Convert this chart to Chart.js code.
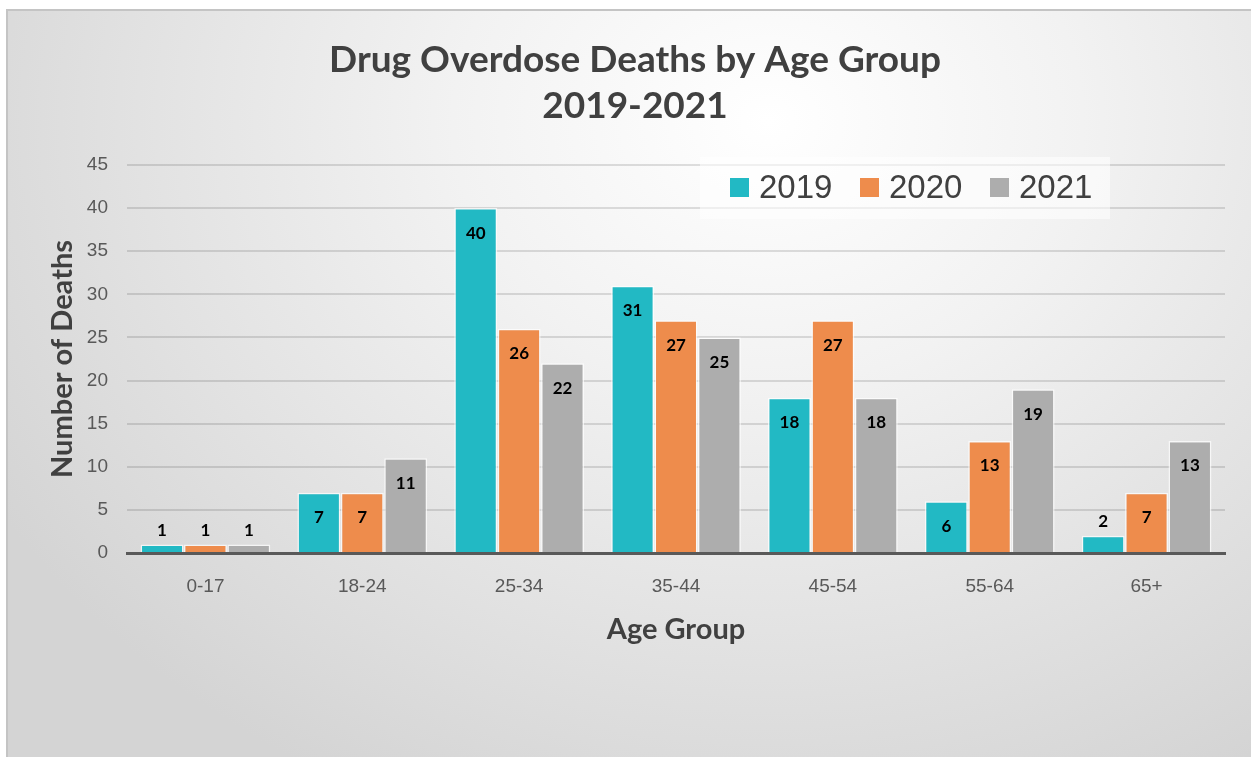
<!DOCTYPE html>
<html>
<head>
<meta charset="utf-8">
<script src="https://cdn.jsdelivr.net/npm/chart.js@4.4.1/dist/chart.umd.min.js"></script>
<style>
  html, body { margin: 0; padding: 0; background: #ffffff; }
  #wrap {
    position: absolute; left: 0; top: 0; width: 1251px; height: 757px;
  }
  #bg {
    position: absolute; left: 6px; top: 9px; right: 0; bottom: 0;
    border-top: 2px solid #c4c4c4; border-left: 2px solid #c4c4c4;
    background: radial-gradient(ellipse 900px 750px at 760px 110px, #ffffff 0%, #f2f2f2 35%, #e2e2e2 70%, #d4d4d4 100%);
  }
  canvas { position: absolute; left: 0; top: 0; }
</style>
</head>
<body>
<div id="wrap">
  <div id="bg"></div>
  <canvas id="myChart" width="1251" height="757"></canvas>
</div>
<script>
const ctx = document.getElementById('myChart').getContext('2d');

// Datos
const ageGroups = ['0-17', '18-24', '25-34', '35-44', '45-54', '55-64', '65+'];
const years = ['2019', '2020', '2021'];
const deaths2019 = [1, 7, 40, 31, 18, 6, 2];
const deaths2020 = [1, 7, 26, 27, 27, 13, 7];
const deaths2021 = [1, 11, 22, 25, 18, 19, 13];
const yTicks = [0, 5, 10, 15, 20, 25, 30, 35, 40, 45];

const colors = ['#22b9c4', '#ee8c4c', '#adadad'];

// etiquetas de valores dentro de las barras
const valueLabels = {
    id: 'valueLabels',
    afterDraw(chart) {
        const c = chart.ctx;
        c.save();
        c.font = 'bold 17px Lato';
        c.fillStyle = '#000000';
        c.textAlign = 'center';
        c.textBaseline = 'middle';
        chart.data.datasets.forEach((ds, i) => {
            chart.getDatasetMeta(i).data.forEach((bar, j) => {
                const h = bar.base - bar.y;
                const y = h > 30 ? bar.y + 25 : bar.y - 14;
                c.fillText(ds.data[j], bar.x, y);
            });
        });
        c.restore();
    }
};

// leyenda con caja clara
const boxLegend = {
    id: 'boxLegend',
    afterDraw(chart) {
        const c = chart.ctx;
        c.save();
        c.fillStyle = 'rgba(255,255,255,0.55)';
        c.fillRect(700, 157, 410, 62);
        c.font = '33px "Liberation Sans"';
        c.textBaseline = 'middle';
        let x = 730;
        chart.data.datasets.forEach((ds) => {
            c.fillStyle = ds.backgroundColor;
            c.fillRect(x, 178, 19, 19);
            c.fillStyle = '#404040';
            c.fillText(ds.label, x + 29, 189);
            x += 130;
        });
        c.restore();
    }
};

const myChart = new Chart(ctx, {
    type: 'bar',
    data: {
        labels: ageGroups,
        datasets: [
            { label: years[0], data: deaths2019, backgroundColor: colors[0] },
            { label: years[1], data: deaths2020, backgroundColor: colors[1] },
            { label: years[2], data: deaths2021, backgroundColor: colors[2] }
        ].map(d => Object.assign(d, {
            borderColor: 'rgba(255,255,255,0.7)',
            borderWidth: 1.5,
            categoryPercentage: 0.83,
            barPercentage: 0.99
        }))
    },
    options: {
        responsive: false,
        animation: false,
        layout: { padding: { left: 45, right: 26, top: 0, bottom: 110 } },
        plugins: {
            legend: { display: false },
            tooltip: { enabled: false },
            title: {
                display: true,
                text: ['Drug Overdose Deaths by Age Group', '2019-2021'],
                color: '#404040',
                font: { family: 'Lato', size: 37, weight: 'bold', lineHeight: 1.243 },
                padding: { top: 37, bottom: 36 }
            }
        },
        scales: {
            x: {
                afterFit: (axis) => { axis.height = 94; },
                grid: { display: false, drawTicks: false },
                border: { display: true, color: '#595959', width: 3 },
                ticks: { color: '#595959', font: { family: 'Liberation Sans', size: 19 }, padding: 22 },
                title: {
                    display: true, text: 'Age Group', color: '#404040',
                    font: { family: 'Lato', size: 29, weight: 'bold' }, padding: { top: 16, bottom: 0 }
                }
            },
            y: {
                min: 0,
                max: 45,
                afterFit: (axis) => { axis.width = 82; },
                afterBuildTicks: (axis) => { axis.ticks = yTicks.map(v => ({ value: v })); },
                grid: { color: 'rgba(0,0,0,0.12)', lineWidth: 2, drawTicks: false },
                border: { display: false },
                ticks: { color: '#595959', font: { family: 'Liberation Sans', size: 19 }, padding: 19 },
                title: {
                    display: true, text: 'Number of Deaths', color: '#404040',
                    font: { family: 'Lato', size: 29, weight: 'bold' }, padding: { top: 0, bottom: 8 }
                }
            }
        }
    },
    plugins: [valueLabels, boxLegend]
});
</script>
</body>
</html>
